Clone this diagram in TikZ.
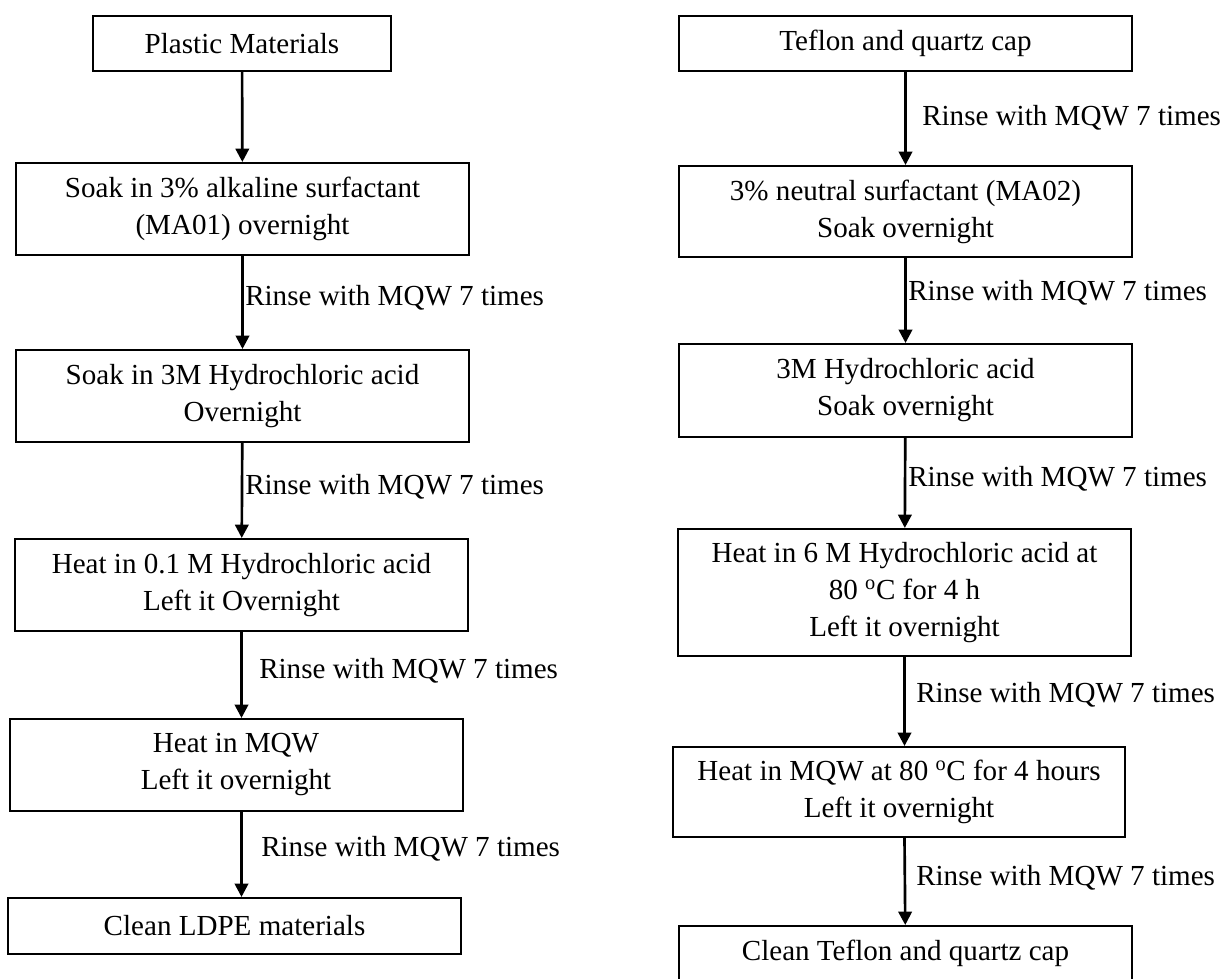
\documentclass[tikz,border=0pt]{standalone}
\usepackage{fontspec}
\setmainfont{Liberation Serif}
\usetikzlibrary{arrows.meta}

\begin{document}
\begin{tikzpicture}[x=0.75pt,y=-0.75pt,
    txt/.style={font=\fontsize{21.8}{27.75}\selectfont},
    box/.style={txt, draw, line width=1.5pt, align=center, inner sep=0pt,
        minimum width=339.75pt, minimum height=69pt},
    flow/.style={line width=2pt, -{Triangle[length=10pt,width=10pt]}},
    rinse/.style={txt, anchor=west, inner sep=0pt}]
    \useasboundingbox (0,0) rectangle (1227,978);
    % plastic materials
    \node[box, minimum width=223.5pt, minimum height=41.25pt] (pm) at (242,43.5) {Plastic Materials};
    \node[box] (sa) at (242.5,209) {Soak in 3\% alkaline surfactant\\(MA01) overnight};
    \node[box] (sh) at (242.5,396) {Soak in 3M Hydrochloric acid\\Overnight};
    \node[box] (hh) at (241.5,585) {Heat in 0.1 M Hydrochloric acid\\Left it Overnight};
    \node[box] (hm) at (236,765) {Heat in MQW\\Left it overnight};
    \node[box, minimum height=42pt] (cl) at (234.5,926) {Clean LDPE materials};
    \draw[flow] (pm) -- (sa);
    \draw[flow] (sa) -- (sh);
    \draw[flow] (sh) -- (hh);
    \draw[flow] (hh.south) -- (hh.south |- hm.north);
    \draw[flow] (hh.south |- hm.south) -- (hh.south |- cl.north);
    \node[rinse] (l1) at (245,298) {Rinse with MQW 7 times};
    \node[rinse] (l2) at (245,487) {Rinse with MQW 7 times};
    \node[rinse] (l3) at (259,671) {Rinse with MQW 7 times};
    \node[rinse] (l4) at (261,849) {Rinse with MQW 7 times};
    % teflon and quartz
    \node[box, minimum height=41.25pt] (tq) at (905.5,43.5) {Teflon and quartz cap};
    \node[box, minimum height=68.25pt] (ns) at (905.5,211.5) {3\% neutral surfactant (MA02)\\Soak overnight};
    \node[box, minimum height=69.75pt] (rh) at (905.5,390.5) {3M Hydrochloric acid\\Soak overnight};
    \node[box, minimum height=95.25pt] (h6) at (904.5,592.5) {Heat in 6 M Hydrochloric acid at\\80 \textsuperscript{o}C for 4 h\\Left it overnight};
    \node[box, minimum width=339pt, minimum height=67.5pt] (h80) at (899,792) {Heat in MQW at 80 \textsuperscript{o}C for 4 hours\\Left it overnight};
    \node[box, minimum height=41.25pt] (ct) at (905.5,953.5) {Clean Teflon and quartz cap};
    \draw[flow] (tq) -- (ns);
    \draw[flow] (ns) -- (rh);
    \draw[flow] (rh) -- (h6);
    \draw[flow] (h6.south) -- (h6.south |- h80.north);
    \draw[flow] (h80.south -| h6.south) -- (ct);
    \node[rinse] (r1) at (922,118) {Rinse with MQW 7 times};
    \node[rinse] (r2) at (908,293) {Rinse with MQW 7 times};
    \node[rinse] (r3) at (908,479) {Rinse with MQW 7 times};
    \node[rinse] (r4) at (916,695) {Rinse with MQW 7 times};
    \node[rinse] (r5) at (916,878) {Rinse with MQW 7 times};
\end{tikzpicture}
\end{document}
